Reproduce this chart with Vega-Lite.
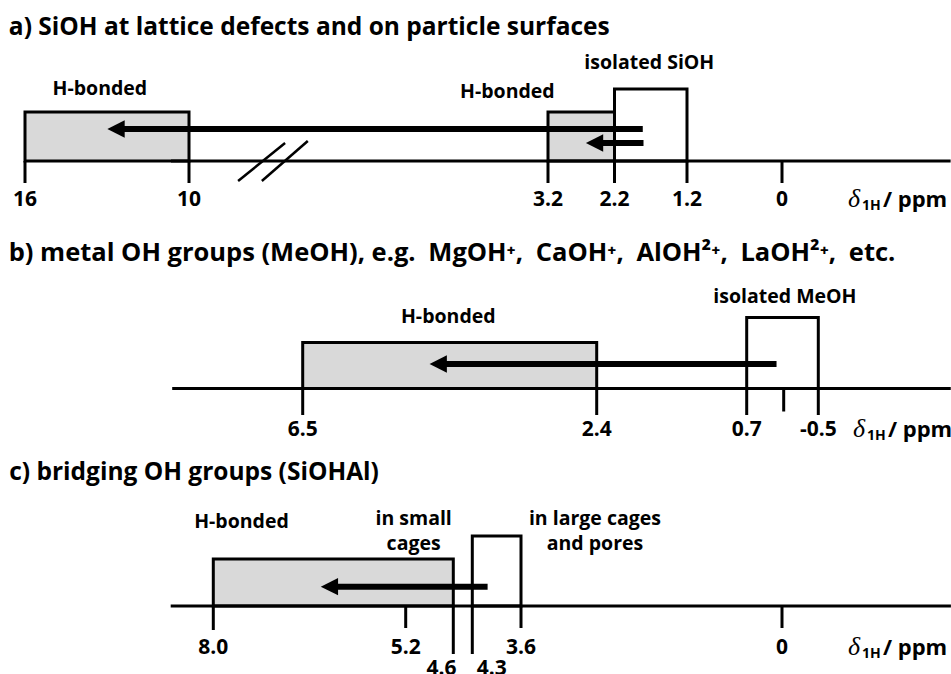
{
  "$schema": "https://vega.github.io/schema/vega-lite/v6.json",
  "padding": 0,
  "spacing": 0,
  "bounds": "flush",
  "background": "white",
  "config": {
    "view": {"stroke": null},
    "text": {"font": "Open Sans", "fontWeight": "bold", "fontSize": 20, "color": "black"}
  },
  "vconcat": [
    {
      "width": 951,
      "height": 224,
      "encoding": {
        "x": {"field": "p", "type": "quantitative", "axis": null,
              "scale": {"domain": [16, 10, 3.2, 2.2, 1.2, 0], "range": [25, 189, 548, 614.5, 687, 782], "nice": false, "zero": false}},
        "y": {"field": "lv", "type": "quantitative", "axis": null,
              "scale": {"domain": [-63, 161], "nice": false, "zero": false}}
      },
      "layer": [
        {
          "data": {"values": [
            {"p": 16, "p2": 10, "lv": 0, "lv2": 49, "kind": "H-bonded"},
            {"p": 3.2, "p2": 2.2, "lv": 0, "lv2": 49, "kind": "H-bonded"},
            {"p": 2.2, "p2": 1.2, "lv": 0, "lv2": 72, "kind": "isolated"}
          ]},
          "mark": {"type": "rect", "stroke": "black", "strokeWidth": 3, "opacity": 1},
          "encoding": {
            "x2": {"field": "p2"}, "y2": {"field": "lv2"},
            "color": {"field": "kind", "type": "nominal", "legend": null,
                      "scale": {"domain": ["H-bonded", "isolated"], "range": ["#d9d9d9", "#ffffff"]}}
          }
        },
        {
          "data": {"values": [{"p": 10.66, "p2": -2.13, "lv": 0}]},
          "mark": {"type": "rule", "color": "black", "strokeWidth": 3},
          "encoding": {"x2": {"field": "p2"}}
        },
        {
          "data": {"values": [
            {"p": 16, "lv": 0, "lv2": -22}, {"p": 10, "lv": 0, "lv2": -22},
            {"p": 3.2, "lv": 0, "lv2": -22}, {"p": 2.2, "lv": 0, "lv2": -22},
            {"p": 1.2, "lv": 0, "lv2": -22}, {"p": 0, "lv": 0, "lv2": -22}
          ]},
          "mark": {"type": "rule", "color": "black", "strokeWidth": 3},
          "encoding": {"y2": {"field": "lv2"}}
        },
        {
          "data": {"values": [
            {"p": 9.07, "p2": 8.18, "lv": -20, "lv2": 18},
            {"p": 8.62, "p2": 7.75, "lv": -20, "lv2": 20}
          ]},
          "mark": {"type": "rule", "color": "black", "strokeWidth": 2.5},
          "encoding": {"x2": {"field": "p2"}, "y2": {"field": "lv2"}}
        },
        {
          "data": {"values": [
            {"p": 1.81, "p2": 12.4, "lv": 32},
            {"p": 1.8, "p2": 2.42, "lv": 18}
          ]},
          "mark": {"type": "rule", "color": "black", "strokeWidth": 6},
          "encoding": {"x2": {"field": "p2"}}
        },
        {
          "data": {"values": [{"p": 12.67, "lv": 32}, {"p": 2.5, "lv": 18}]},
          "mark": {"type": "point", "shape": "M -1 0 L 1 -1 L 1 1 Z", "filled": true, "color": "black", "size": 300, "opacity": 1}
        },
        {
          "data": {"values": [
            {"p": 16, "lv": -39, "t": "16"}, {"p": 10, "lv": -39, "t": "10"},
            {"p": 3.2, "lv": -39, "t": "3.2"}, {"p": 2.2, "lv": -39, "t": "2.2"},
            {"p": 1.2, "lv": -39, "t": "1.2"}, {"p": 0, "lv": -39, "t": "0"}
          ]},
          "mark": {"type": "text", "fontSize": 21, "baseline": "middle", "align": "center"},
          "encoding": {"text": {"field": "t"}}
        },
        {
          "data": {"values": [
            {"p": 13.26, "lv": 72, "t": "H-bonded"},
            {"p": 3.97, "lv": 69, "t": "H-bonded"},
            {"p": 1.72, "lv": 98, "t": "isolated SiOH"}
          ]},
          "mark": {"type": "text", "fontSize": 19.5, "baseline": "middle", "align": "center"},
          "encoding": {"text": {"field": "t"}}
        },
        {
          "data": {"values": [{"p": 16.59, "lv": 126, "t": "a) SiOH at lattice defects and on particle surfaces"}]},
          "mark": {"type": "text", "fontSize": 24.5, "baseline": "alphabetic", "align": "left"},
          "encoding": {"text": {"field": "t"}}
        },
        {
          "data": {"values": [{"p": -0.833, "lv": -39, "sym": "δ", "sub": "1H", "unit": "/ ppm"}]},
          "layer": [
            {"mark": {"type": "text", "font": "Liberation Serif", "fontStyle": "italic", "fontWeight": "normal", "fontSize": 26, "baseline": "middle", "align": "left", "dy": -1},
             "encoding": {"text": {"field": "sym"}}},
            {"mark": {"type": "text", "fontSize": 14, "baseline": "middle", "align": "left", "dx": 14, "dy": 6},
             "encoding": {"text": {"field": "sub"}}},
            {"mark": {"type": "text", "fontSize": 22, "baseline": "middle", "align": "left", "dx": 35},
             "encoding": {"text": {"field": "unit"}}}
          ]
        }
      ]
    },
    {
      "width": 951,
      "height": 224,
      "encoding": {
        "x": {"field": "p", "type": "quantitative", "axis": null,
              "scale": {"domain": [6.5, 2.4, 0.7, -0.5], "range": [302.7, 596.7, 746.7, 818.3], "nice": false, "zero": false}},
        "y": {"field": "lv", "type": "quantitative", "axis": null,
              "scale": {"domain": [-59.5, 164.5], "nice": false, "zero": false}}
      },
      "layer": [
        {
          "data": {"values": [
            {"p": 6.5, "p2": 2.4, "lv": 0, "lv2": 46, "kind": "H-bonded"},
            {"p": 0.7, "p2": -0.5, "lv": 0, "lv2": 71, "kind": "isolated"}
          ]},
          "mark": {"type": "rect", "stroke": "black", "strokeWidth": 3, "opacity": 1},
          "encoding": {
            "x2": {"field": "p2"}, "y2": {"field": "lv2"},
            "color": {"field": "kind", "type": "nominal", "legend": null,
                      "scale": {"domain": ["H-bonded", "isolated"], "range": ["#d9d9d9", "#ffffff"]}}
          }
        },
        {
          "data": {"values": [{"p": 8.32, "p2": -2.72, "lv": 0}]},
          "mark": {"type": "rule", "color": "black", "strokeWidth": 3},
          "encoding": {"x2": {"field": "p2"}}
        },
        {
          "data": {"values": [
            {"p": 6.5, "lv": 0, "lv2": -26.5}, {"p": 2.4, "lv": 0, "lv2": -26.5},
            {"p": 0.7, "lv": 0, "lv2": -26.5}, {"p": 0.08, "lv": 0, "lv2": -23},
            {"p": -0.5, "lv": 0, "lv2": -26.5}
          ]},
          "mark": {"type": "rule", "color": "black", "strokeWidth": 3},
          "encoding": {"y2": {"field": "lv2"}}
        },
        {
          "data": {"values": [{"p": 0.2, "p2": 4.55, "lv": 24.5}]},
          "mark": {"type": "rule", "color": "black", "strokeWidth": 6},
          "encoding": {"x2": {"field": "p2"}}
        },
        {
          "data": {"values": [{"p": 4.61, "lv": 24.5}]},
          "mark": {"type": "point", "shape": "M -1 0 L 1 -1 L 1 1 Z", "filled": true, "color": "black", "size": 300, "opacity": 1}
        },
        {
          "data": {"values": [
            {"p": 6.5, "lv": -41.5, "t": "6.5"}, {"p": 2.4, "lv": -41.5, "t": "2.4"},
            {"p": 0.7, "lv": -41.5, "t": "0.7"}, {"p": -0.5, "lv": -41.5, "t": "-0.5"}
          ]},
          "mark": {"type": "text", "fontSize": 21, "baseline": "middle", "align": "center"},
          "encoding": {"text": {"field": "t"}}
        },
        {
          "data": {"values": [
            {"p": 4.47, "lv": 72, "t": "H-bonded"},
            {"p": 0.06, "lv": 92, "t": "isolated MeOH"}
          ]},
          "mark": {"type": "text", "fontSize": 19.5, "baseline": "middle", "align": "center"},
          "encoding": {"text": {"field": "t"}}
        },
        {
          "data": {"values": [{"p": 10.6, "lv": 127.5, "t": "b) metal OH groups (MeOH), e.g.\u2002MgOH⁺,\u2002CaOH⁺,\u2002AlOH²⁺,\u2002LaOH²⁺,\u2002etc."}]},
          "mark": {"type": "text", "fontSize": 25.5, "baseline": "alphabetic", "align": "left"},
          "encoding": {"text": {"field": "t"}}
        },
        {
          "data": {"values": [{"p": -1.081, "lv": -41.5, "sym": "δ", "sub": "1H", "unit": "/ ppm"}]},
          "layer": [
            {"mark": {"type": "text", "font": "Liberation Serif", "fontStyle": "italic", "fontWeight": "normal", "fontSize": 26, "baseline": "middle", "align": "left", "dy": -1},
             "encoding": {"text": {"field": "sym"}}},
            {"mark": {"type": "text", "fontSize": 14, "baseline": "middle", "align": "left", "dx": 14, "dy": 6},
             "encoding": {"text": {"field": "sub"}}},
            {"mark": {"type": "text", "fontSize": 22, "baseline": "middle", "align": "left", "dx": 35},
             "encoding": {"text": {"field": "unit"}}}
          ]
        }
      ]
    },
    {
      "width": 951,
      "height": 226,
      "encoding": {
        "x": {"field": "p", "type": "quantitative", "axis": null,
              "scale": {"domain": [8.0, 5.2, 4.6, 4.3, 3.6, 0], "range": [213.3, 405.7, 453.3, 472.3, 521, 782], "nice": false, "zero": false}},
        "y": {"field": "lv", "type": "quantitative", "axis": null,
              "scale": {"domain": [-68, 158], "nice": false, "zero": false}}
      },
      "layer": [
        {
          "data": {"values": [
            {"p": 8.0, "p2": 4.6, "lv": 0, "lv2": 47, "kind": "H-bonded"},
            {"p": 4.3, "p2": 3.6, "lv": 0, "lv2": 70, "kind": "isolated"}
          ]},
          "mark": {"type": "rect", "stroke": "black", "strokeWidth": 3, "opacity": 1},
          "encoding": {
            "x2": {"field": "p2"}, "y2": {"field": "lv2"},
            "color": {"field": "kind", "type": "nominal", "legend": null,
                      "scale": {"domain": ["H-bonded", "isolated"], "range": ["#d9d9d9", "#ffffff"]}}
          }
        },
        {
          "data": {"values": [{"p": 8.62, "p2": -2.33, "lv": 0}]},
          "mark": {"type": "rule", "color": "black", "strokeWidth": 3},
          "encoding": {"x2": {"field": "p2"}}
        },
        {
          "data": {"values": [
            {"p": 8.0, "lv": 0, "lv2": -24}, {"p": 5.2, "lv": 0, "lv2": -22},
            {"p": 4.6, "lv": 0, "lv2": -48}, {"p": 4.3, "lv": 0, "lv2": -48},
            {"p": 3.6, "lv": 0, "lv2": -22}, {"p": 0, "lv": 0, "lv2": -22}
          ]},
          "mark": {"type": "rule", "color": "black", "strokeWidth": 3},
          "encoding": {"y2": {"field": "lv2"}}
        },
        {
          "data": {"values": [{"p": 4.08, "p2": 6.2, "lv": 19.3}]},
          "mark": {"type": "rule", "color": "black", "strokeWidth": 6},
          "encoding": {"x2": {"field": "p2"}}
        },
        {
          "data": {"values": [{"p": 6.31, "lv": 19.3}]},
          "mark": {"type": "point", "shape": "M -1 0 L 1 -1 L 1 1 Z", "filled": true, "color": "black", "size": 300, "opacity": 1}
        },
        {
          "data": {"values": [
            {"p": 8.0, "lv": -42, "t": "8.0"}, {"p": 5.2, "lv": -42, "t": "5.2"},
            {"p": 3.6, "lv": -42, "t": "3.6"}, {"p": 0, "lv": -42, "t": "0"},
            {"p": 4.75, "lv": -63, "t": "4.6"}, {"p": 4.02, "lv": -63, "t": "4.3"}
          ]},
          "mark": {"type": "text", "fontSize": 21, "baseline": "middle", "align": "center"},
          "encoding": {"text": {"field": "t"}}
        },
        {
          "data": {"values": [
            {"p": 7.59, "lv": 84, "t": "H-bonded"},
            {"p": 5.1, "lv": 87, "t": "in small\ncages"},
            {"p": 2.58, "lv": 87, "t": "in large cages\nand pores"}
          ]},
          "mark": {"type": "text", "fontSize": 19.5, "baseline": "middle", "align": "center", "lineBreak": "\n", "lineHeight": 25},
          "encoding": {"text": {"field": "t"}}
        },
        {
          "data": {"values": [{"p": 10.97, "lv": 126, "t": "c) bridging OH groups (SiOHAl)"}]},
          "mark": {"type": "text", "fontSize": 24.5, "baseline": "alphabetic", "align": "left"},
          "encoding": {"text": {"field": "t"}}
        },
        {
          "data": {"values": [{"p": -0.91, "lv": -42, "sym": "δ", "sub": "1H", "unit": "/ ppm"}]},
          "layer": [
            {"mark": {"type": "text", "font": "Liberation Serif", "fontStyle": "italic", "fontWeight": "normal", "fontSize": 26, "baseline": "middle", "align": "left", "dy": -1},
             "encoding": {"text": {"field": "sym"}}},
            {"mark": {"type": "text", "fontSize": 14, "baseline": "middle", "align": "left", "dx": 14, "dy": 6},
             "encoding": {"text": {"field": "sub"}}},
            {"mark": {"type": "text", "fontSize": 22, "baseline": "middle", "align": "left", "dx": 35},
             "encoding": {"text": {"field": "unit"}}}
          ]
        }
      ]
    }
  ]
}
